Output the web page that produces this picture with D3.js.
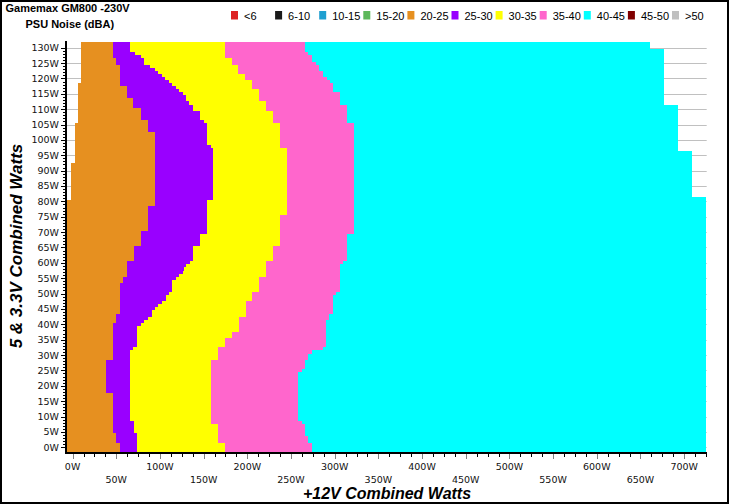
<!DOCTYPE html>
<html>
<head>
<meta charset="utf-8">
<script src="https://cdn.jsdelivr.net/npm/d3@7/dist/d3.min.js"></script>
<style>
  html, body { margin: 0; padding: 0; background: #fff; }
  svg { display: block; }
</style>
</head>
<body>
<svg id="chart" width="729" height="504"></svg>
<script>
// ---- Data (watts) ----
// 5V & 3.3V combined load per row (categories)
const load5V = [
  0,1,2,3,4,5,6,7,8,9,10,11,12,13,14,15,16,17,18,19,20,21,22,23,24,25,26,27,28,29,
  30,31,32,33,34,35,36,37,38,39,40,41,42,43,44,45,46,47,48,49,50,51,52,53,54,55,56,57,58,59,
  60,61,62,63,64,65,66,67,68,69,70,71,72,73,74,75,76,77,78,79,80,81,82,83,84,85,86,87,88,89,
  90,91,92,93,94,95,96,97,98,99,100,101,102,103,104,105,106,107,108,109,110,111,112,113,114,115,116,117,118,119,
  120,121,122,123,124,125,126,127,128,129,130
];
// +12V load where each row starts (minimum)
const rowStart = [
  -6.4,-6.4,-6.4,-6.4,-6.4,-6.4,-6.4,-6.4,-6.4,-6.4,
  -6.4,-6.4,-6.4,-6.4,-6.4,-6.4,-6.4,-6.4,-6.4,-6.4,
  -6.4,-6.4,-6.4,-6.4,-6.4,-6.4,-6.4,-6.4,-6.4,-6.4,
  -6.4,-6.4,-6.4,-6.4,-6.4,-6.4,-6.4,-6.4,-6.4,-6.4,
  -6.4,-6.4,-6.4,-6.4,-6.4,-6.4,-6.4,-6.4,-6.4,-6.4,
  -6.4,-6.4,-6.4,-6.4,-6.4,-6.4,-6.4,-6.4,-6.4,-6.4,
  -6.4,-6.4,-6.4,-6.4,-6.4,-6.4,-6.4,-6.4,-6.4,-6.4,
  -6.4,-6.4,-6.4,-6.4,-6.4,-6.4,-6.4,-6.4,-6.4,-6.4,
  -6.4,-1.8,-1.8,-1.8,-1.8,-1.8,-1.8,-1.8,-1.8,-1.8,
  -1.8,-1.8,-1.8,2.7,2.7,2.7,2.7,2.7,2.7,2.7,
  2.7,2.7,2.7,2.7,2.7,2.7,6.5,6.5,6.5,6.5,
  6.5,6.5,6.5,6.5,6.5,6.5,6.5,6.5,6.5,9.6,
  9.6,9.6,9.6,9.6,9.6,9.6,9.6,9.6,9.6,9.6,
  9.6
];
// +12V load where the 20-25 dBA zone ends
const end2025 = [
  54.3,54.3,49.7,49.7,49.7,46.6,46.6,46.6,46.6,46.6,
  46.6,46.6,46.6,46.6,46.6,46.6,46.6,46.6,38.2,38.2,
  38.2,38.2,38.2,38.2,38.2,38.2,38.2,38.2,38.2,46.6,
  46.6,46.6,46.6,46.6,46.6,46.6,46.6,46.6,46.6,46.6,
  46.6,49.7,49.7,49.7,54.3,54.3,54.3,54.3,54.3,54.3,
  54.3,54.3,54.3,54.3,58.1,58.1,61.9,61.9,61.9,61.9,
  61.9,70.3,70.3,70.3,70.3,70.3,78.3,78.3,78.3,78.3,
  78.3,86,86,86,86,86,86,86,86,94.3,
  94.3,94.3,94.3,94.3,94.3,94.3,94.3,94.3,94.3,94.3,
  94.3,94.3,94.3,94.3,94.3,94.3,94.3,94.3,94.3,94.3,
  94.3,94.3,94.3,86.7,86.7,86.7,86.7,77.9,77.9,77.9,
  77.9,69.5,69.5,69.5,61.9,61.9,61.9,61.9,54.3,54.3,
  54.3,54.3,54.3,54.3,54.3,49.7,49.7,45.9,45.9,45.9,
  45.9
];
// +12V load where the 25-30 dBA zone ends
const end2530 = [
  73.4,73.4,73.4,73.4,73.4,70.3,70.3,70.3,70.3,65.7,
  65.7,65.7,65.7,65.7,65.7,65.7,65.7,65.7,65.7,65.7,
  65.7,65.7,65.7,65.7,65.7,65.7,65.7,65.7,65.7,65.7,
  65.7,65.7,69.5,73.4,73.4,73.4,73.4,73.4,73.4,73.4,
  77.9,82.1,86.7,90.5,90.5,94.3,98.1,102.3,106.6,106.6,
  110.3,114.1,114.1,114.1,114.1,118.3,122.1,126.7,128,129.8,
  134.4,137.5,137.5,137.5,137.5,137.5,145.8,145.8,145.8,145.8,
  154.2,154.2,154.2,154.2,154.2,154.2,154.2,154.2,154.2,154.2,
  154.2,161,161,161,161,161,161,161,161,161,
  161,161,161,161,161,161,161,161,158.1,153.5,
  153.5,153.5,153.5,153.5,153.5,153.5,150.4,145.8,145.8,145.8,
  137.5,137.5,133.6,129.8,129.8,126.7,122.1,118.3,113.4,110.7,
  105.8,101.9,98.1,94.3,88.6,81.7,81.7,77.9,71.5,65.7,
  65.7
];
// +12V load where the 30-35 dBA zone ends
const end3035 = [
  174.4,174.4,166.8,166.8,166.8,166.8,166.8,166.8,158.1,158.1,
  158.1,158.1,158.1,158.1,158.1,158.1,158.1,158.1,158.1,158.1,
  158.1,158.1,158.1,158.1,158.1,158.1,158.1,158.1,158.1,166.8,
  166.8,166.8,166.8,174.4,174.4,174.4,182.5,182.5,190.5,190.5,
  190.5,190.5,190.5,198,198,198,198,198,205,205,
  205,213.7,213.7,213.7,213.7,213.7,221.4,221.4,221.4,221.4,
  221.4,229,229,229,229,229,237.4,237.4,237.4,237.4,
  237.4,237.4,237.4,237.4,237.4,237.4,245.1,245.1,245.1,245.1,
  245.1,245.1,245.1,245.1,245.1,245.1,245.1,245.1,245.1,245.1,
  245.1,245.1,245.1,245.1,245.1,245.1,245.1,245.1,237.4,237.4,
  237.4,237.4,237.4,237.4,237.4,237.4,229,229,229,229,
  221.4,221.4,221.4,213.7,213.7,213.7,213.7,205,205,205,
  197.3,197.3,189.7,189.7,189.7,182.1,182.1,174.4,174.4,174.4,
  174.4
];
// +12V load where the 35-40 dBA zone ends
const end3540 = [
  273.6,273.6,269.8,269.8,266,266,266,266,262.2,258.3,
  258.3,258.3,258.3,258.3,258.3,258.3,258.3,258.3,258.3,258.3,
  258.3,258.3,258.3,258.3,258.3,262.2,266,266,266,269.8,
  269.8,273.6,287,290,290,290,290,290,290,290,
  290,290,293.8,293.8,298.4,298.4,298.4,298.4,298.4,298.4,
  301.5,306.1,306.1,306.1,306.1,306.1,306.1,306.1,306.1,306.1,
  309.8,313.7,313.7,313.7,313.7,313.7,313.7,313.7,313.7,313.7,
  322.1,322.1,322.1,322.1,322.1,322.1,322.1,322.1,322.1,322.1,
  322.1,322.1,322.1,322.1,322.1,322.1,322.1,322.1,322.1,322.1,
  322.1,322.1,322.1,322.1,322.1,322.1,322.1,322.1,322.1,322.1,
  322.1,322.1,322.1,322.1,322.1,322.1,313.7,313.7,313.7,313.7,
  313.7,313.7,306.1,306.1,306.1,306.1,298.4,298.4,298.4,294.6,
  290.8,287,287,282.4,282.4,278.6,274,274,269.8,266,
  266
];
// +12V load where the 40-45 dBA zone ends (maximum)
const end4045 = [
  725,725,725,725,725,725,725,725,725,725,
  725,725,725,725,725,725,725,725,725,725,
  725,725,725,725,725,725,725,725,725,725,
  725,725,725,725,725,725,725,725,725,725,
  725,725,725,725,725,725,725,725,725,725,
  725,725,725,725,725,725,725,725,725,725,
  725,725,725,725,725,725,725,725,725,725,
  725,725,725,725,725,725,725,725,725,725,
  725,725,708.9,708.9,708.9,708.9,708.9,708.9,708.9,708.9,
  708.9,708.9,708.9,708.9,708.9,708.9,708.9,692.9,692.9,692.9,
  692.9,692.9,692.9,692.9,692.9,692.9,692.9,692.9,692.9,692.9,
  692.9,692.9,676.9,676.9,676.9,676.9,676.9,676.9,676.9,676.9,
  676.9,676.9,676.9,676.9,676.9,676.9,676.9,676.9,676.9,676.9,
  660.9
];

const zoneLabels = ["20-25","25-30","30-35","35-40","40-45"];
const zoneColors = ["#e69020","#9900ff","#ffff00","#ff66cc","#00ffff"];

const legendLabels = ["<6","6-10","10-15","15-20","20-25","25-30","30-35","35-40","40-45","45-50",">50"];
const legendColors = ["#dd2222","#1a1a1a","#1e9fd0","#5cb85c","#e69020","#9900ff","#ffff00","#ff66cc","#00ffff","#800000","#c0c0c0"];

const yTicks = [0,5,10,15,20,25,30,35,40,45,50,55,60,65,70,75,80,85,90,95,100,105,110,115,120,125,130];
const xTicksRow1 = [0,100,200,300,400,500,600,700];
const xTicksRow2 = [50,150,250,350,450,550,650];

// ---- Chart ----
const svg = d3.select("#chart");
const W = 729, H = 504;
svg.append("rect").attr("x",0).attr("y",0).attr("width",W).attr("height",H).attr("fill","#fff");

const x = d3.scaleLinear().domain([-6.4, 725.8]).range([67, 706.7]);
const y = d3.scaleLinear().domain([-1.45, 131.95]).range([451.7, 41.7]);
const [yMin, yMax] = y.domain();

// horizontal grid lines
svg.append("g").selectAll("line").data(yTicks).join("line")
  .attr("x1", 66).attr("x2", 706.7)
  .attr("y1", d => Math.round(y(d)) + 0.5).attr("y2", d => Math.round(y(d)) + 0.5)
  .attr("stroke", "#c0c0c0").attr("stroke-width", 1);

// cells
const bounds = [rowStart, end2025, end2530, end3035, end3540, end4045];
const cells = [];
load5V.forEach((v, i) => {
  for (let b = 0; b < zoneLabels.length; b++) {
    const a = bounds[b][i], e = bounds[b + 1][i];
    if (e > a) cells.push({ v, a, e, color: zoneColors[b] });
  }
});
svg.append("g").attr("shape-rendering", "crispEdges")
  .selectAll("rect").data(cells).join("rect")
  .attr("x", d => x(d.a))
  .attr("width", d => x(d.e) - x(d.a))
  .attr("y", d => y(d.v === load5V[load5V.length - 1] ? yMax : d.v + 0.5))
  .attr("height", d => y(d.v === load5V[0] ? yMin : d.v - 0.5) - y(d.v === load5V[load5V.length - 1] ? yMax : d.v + 0.5))
  .attr("fill", d => d.color);

const tickFont = "DejaVu Sans, Verdana, sans-serif";

// Y axis
const yAxisG = svg.append("g");
yAxisG.selectAll("line.minor").data(load5V).join("line")
  .attr("class","minor")
  .attr("x1", 63).attr("x2", 66)
  .attr("y1", d => Math.round(y(d)) + 0.5).attr("y2", d => Math.round(y(d)) + 0.5)
  .attr("stroke", "#000").attr("stroke-width", 1);
yAxisG.selectAll("line.major").data(yTicks).join("line")
  .attr("class","major")
  .attr("x1", 61).attr("x2", 66)
  .attr("y1", d => Math.round(y(d)) + 0.5).attr("y2", d => Math.round(y(d)) + 0.5)
  .attr("stroke", "#000").attr("stroke-width", 1);
yAxisG.selectAll("text").data(yTicks).join("text")
  .attr("x", 59).attr("y", d => y(d) + 3.5)
  .attr("text-anchor", "end")
  .attr("font-family", tickFont).attr("font-size", "9.5px").attr("fill", "#111")
  .text(d => d + "W");
yAxisG.append("line").attr("x1", 66).attr("x2", 66).attr("y1", 41).attr("y2", 454)
  .attr("stroke", "#000").attr("stroke-width", 2);

// X axis
const xAxisG = svg.append("g");
const minorX = d3.range(0, 726, 12.5).filter(v => v % 50 !== 0);
const majorX = xTicksRow1.concat(xTicksRow2);
xAxisG.selectAll("line.minor").data(minorX).join("line")
  .attr("x1", d => Math.round(x(d)) + 0.5).attr("x2", d => Math.round(x(d)) + 0.5)
  .attr("y1", 453).attr("y2", 457).attr("stroke", "#000");
xAxisG.selectAll("line.major").data(majorX).join("line")
  .attr("x1", d => Math.round(x(d)) + 0.5).attr("x2", d => Math.round(x(d)) + 0.5)
  .attr("y1", 453).attr("y2", 459).attr("stroke", "#808080");
xAxisG.selectAll("text.r1").data(xTicksRow1).join("text")
  .attr("x", d => x(d)).attr("y", 470)
  .attr("text-anchor", "middle")
  .attr("font-family", tickFont).attr("font-size", "9.5px").attr("fill", "#111")
  .text(d => d + "W");
xAxisG.selectAll("text.r2").data(xTicksRow2).join("text")
  .attr("x", d => x(d)).attr("y", 483)
  .attr("text-anchor", "middle")
  .attr("font-family", tickFont).attr("font-size", "9.5px").attr("fill", "#111")
  .text(d => d + "W");
xAxisG.append("line").attr("x1", 65).attr("x2", 707).attr("y1", 453).attr("y2", 453)
  .attr("stroke", "#000").attr("stroke-width", 2);

// Axis titles
svg.append("text").attr("x", 387).attr("y", 499).attr("text-anchor", "middle")
  .attr("font-family", "Liberation Sans, Arial, sans-serif").attr("font-weight", "bold")
  .attr("font-style", "italic").attr("font-size", "16px").attr("fill", "#000")
  .text("+12V Combined Watts");
svg.append("text").attr("transform", "translate(21.5,246) rotate(-90)").attr("text-anchor", "middle")
  .attr("font-family", "Liberation Sans, Arial, sans-serif").attr("font-weight", "bold")
  .attr("font-style", "italic").attr("font-size", "17px").attr("fill", "#000")
  .text("5 & 3.3V Combined Watts");

// Titles
svg.append("text").attr("x", 5.5).attr("y", 11.5)
  .attr("font-family", "Liberation Sans, Arial, sans-serif").attr("font-weight", "bold")
  .attr("font-size", "11px").attr("fill", "#000").text("Gamemax GM800 -230V");
svg.append("text").attr("x", 25.5).attr("y", 28)
  .attr("font-family", "Liberation Sans, Arial, sans-serif").attr("font-weight", "bold")
  .attr("font-size", "11px").attr("fill", "#000").text("PSU Noise (dBA)");

// Legend
const lg = svg.append("g");
const items = lg.selectAll("g").data(legendLabels).join("g")
  .attr("transform", (d, i) => `translate(${231 + i * 44.1},0)`);
items.append("rect").attr("x", 0).attr("y", 11).attr("width", 7).attr("height", 8.5)
  .attr("fill", (d, i) => legendColors[i]);
items.append("text").attr("x", 13).attr("y", 19.5)
  .attr("font-family", "Liberation Sans, Arial, sans-serif").attr("font-size", "11px")
  .attr("fill", "#000").text(d => d);

// Outer frame
svg.append("rect").attr("x", 1).attr("y", 1).attr("width", W - 2).attr("height", H - 2)
  .attr("fill", "none").attr("stroke", "#000").attr("stroke-width", 2);
</script>
</body>
</html>
